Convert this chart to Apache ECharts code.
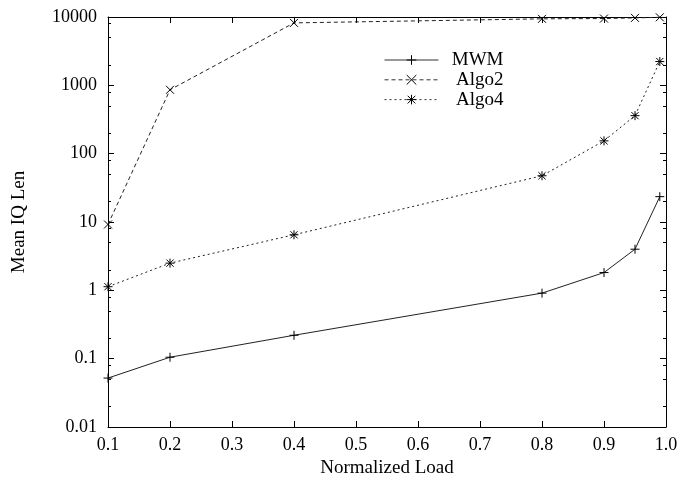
<!DOCTYPE html>
<html><head><meta charset="utf-8">
<script src="https://cdn.jsdelivr.net/npm/echarts@6/dist/echarts.min.js"></script>
<style>html,body{margin:0;padding:0;background:#fff}#c{width:682px;height:484px}</style>
</head><body><div id="c"></div>
<script>
const loads = [0.1, 0.2, 0.4, 0.8, 0.9, 0.95, 0.99];
const mwm   = [0.052, 0.105, 0.22, 0.91, 1.82, 4.0, 23.5];
const algo2 = [9.2, 860, 8200, 9400, 9500, 9700, 9900];
const algo4 = [1.13, 2.5, 6.5, 47.5, 154, 360, 2230];
const seriesNames = ['MWM', 'Algo2', 'Algo4'];
const yMajor = [0.01, 0.1, 1, 10, 100, 1000, 10000];
const yMinor = [0.02, 0.05, 0.08, 0.2, 0.5, 0.8, 2, 5, 8, 20, 50, 80, 200, 500, 800, 2000, 5000, 8000];

const FONT = 'Liberation Serif';
const INK = '#000';
const chart = echarts.init(document.getElementById('c'), null, {renderer: 'canvas'});

function yAxisDef(pos, ticks, len, showLabel, showLine, name) {
  return {
    type: 'log', logBase: 10, min: 0.01, max: 10000, position: pos,
    axisLine: {show: showLine, lineStyle: {color: INK, width: 1}},
    axisTick: {show: true, inside: true, length: len, customValues: ticks, lineStyle: {color: INK, width: 1}},
    axisLabel: showLabel ? {show: true, customValues: yMajor, margin: 11, color: INK, fontFamily: FONT, fontSize: 18,
      formatter: v => String(+v.toPrecision(6))} : {show: false},
    minorTick: {show: false},
    splitLine: {show: false},
    name: name || '', nameLocation: 'middle', nameGap: 79, nameRotate: 90,
    nameTextStyle: {color: INK, fontFamily: FONT, fontSize: 19}
  };
}
function xAxisDef(pos, showLabel, name) {
  return {
    type: 'value', min: 0.1, max: 1.0, interval: 0.1, position: pos,
    axisLine: {show: true, onZero: false, lineStyle: {color: INK, width: 1}},
    axisTick: {show: true, inside: true, length: 6, lineStyle: {color: INK, width: 1}},
    axisLabel: showLabel ? {show: true, margin: 9, color: INK, fontFamily: FONT, fontSize: 18,
      formatter: v => v.toFixed(1)} : {show: false},
    splitLine: {show: false},
    name: name || '', nameLocation: 'middle', nameGap: 32,
    nameTextStyle: {color: INK, fontFamily: FONT, fontSize: 19}
  };
}

const plusPath = 'path://M0,5L10,5M5,0L5,10';
const crossPath = 'path://M0,0L10,10M10,0L0,10';
const starPath = 'path://M0,5L10,5M5,0L5,10M1,1L9,9M9,1L1,9';

function mk(name, vals, sym, size, dash) {
  return {
    name: name, type: 'line', xAxisIndex: 0, yAxisIndex: 0,
    data: loads.map((x, i) => [x, vals[i]]),
    symbol: sym, symbolSize: size, showSymbol: true,
    lineStyle: {color: '#222', width: 1, type: dash},
    itemStyle: {color: '#000', borderColor: '#000', borderWidth: 1},
    emphasis: {disabled: true}, animation: false, clip: false
  };
}

chart.setOption({
  animation: false,
  backgroundColor: '#fff',
  grid: {left: 108, right: 16, top: 17, bottom: 57, containLabel: false},
  xAxis: [xAxisDef('bottom', true, 'Normalized Load'), xAxisDef('top', false)],
  yAxis: [
    yAxisDef('left', yMajor, 6, true, true, 'Mean IQ Len'),
    yAxisDef('left', yMinor, 3, false, false),
    yAxisDef('right', yMajor, 6, false, true),
    yAxisDef('right', yMinor, 3, false, false)
  ],
  legend: {
    data: seriesNames, orient: 'vertical', left: 379, top: 45.5,
    itemWidth: 54, itemHeight: 12, itemGap: 0.8,
    itemStyle: {borderWidth: 1, borderColor: '#000'},
    lineStyle: {width: 1, color: '#333'},
    textStyle: {color: INK, fontFamily: FONT, fontSize: 19,
      rich: {r: {width: 60, align: 'right', fontFamily: FONT, fontSize: 19, color: INK}}},
    formatter: n => '{r|' + n + '}',
    selectedMode: false
  },
  series: [
    mk(seriesNames[0], mwm, plusPath, 9, 'solid'),
    mk(seriesNames[1], algo2, crossPath, 8, [4, 3]),
    mk(seriesNames[2], algo4, starPath, 9, [2, 3])
  ]
});
</script></body></html>
